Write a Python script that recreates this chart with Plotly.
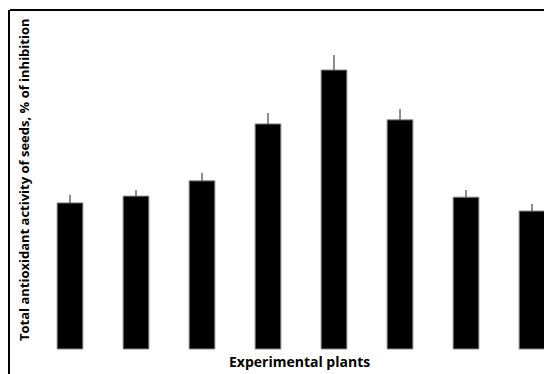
import plotly.graph_objects as go

categories = ["P1", "P2", "P3", "P4", "P5", "P6", "P7", "P8"]
values = [43.1, 45.1, 49.6, 66.4, 82.3, 67.6, 44.8, 40.7]
errors = [2.4, 1.8, 2.4, 3.2, 4.4, 3.2, 2.1, 2.1]

x_title = "Experimental plants"
y_title = "Total antioxidant activity of seeds, % of inhibition"

fig = go.Figure()
fig.add_trace(go.Bar(
    x=list(range(len(categories))),
    y=values,
    width=0.39,
    marker=dict(color="black", line=dict(color="#888888", width=1)),
    error_y=dict(type="data", symmetric=False, array=errors,
                 arrayminus=[0] * len(errors), color="#444444",
                 thickness=1.2, width=0),
    hovertext=categories,
))

font_title = dict(family="'Open Sans', sans-serif", size=13, color="black")

fig.update_layout(
    width=552, height=374,
    margin=dict(l=2, r=0, t=2, b=0),
    paper_bgcolor="white", plot_bgcolor="white",
    showlegend=False,
    xaxis=dict(range=[-0.909, 7.424], showticklabels=False, showgrid=False,
               zeroline=False, showline=False, ticks=""),
    yaxis=dict(range=[-9.73, 100], showticklabels=False, showgrid=False,
               zeroline=False, showline=True, linecolor="black", linewidth=2,
               ticks=""),
    shapes=[dict(type="line", xref="paper", yref="paper", x0=0, x1=1, y0=1, y1=1,
                 line=dict(color="black", width=2))],
    annotations=[
        dict(text="<b>" + y_title + "</b>", xref="paper", yref="paper",
             x=0.0255, y=0.543, xanchor="center", yanchor="middle",
             textangle=-90, showarrow=False, font=font_title),
        dict(text="<b>" + x_title + "</b>", xref="paper", yref="paper",
             x=0.527, y=0.0538, xanchor="center", yanchor="middle",
             showarrow=False, font=dict(font_title, size=14)),
    ],
)

fig.write_html("out.html")
